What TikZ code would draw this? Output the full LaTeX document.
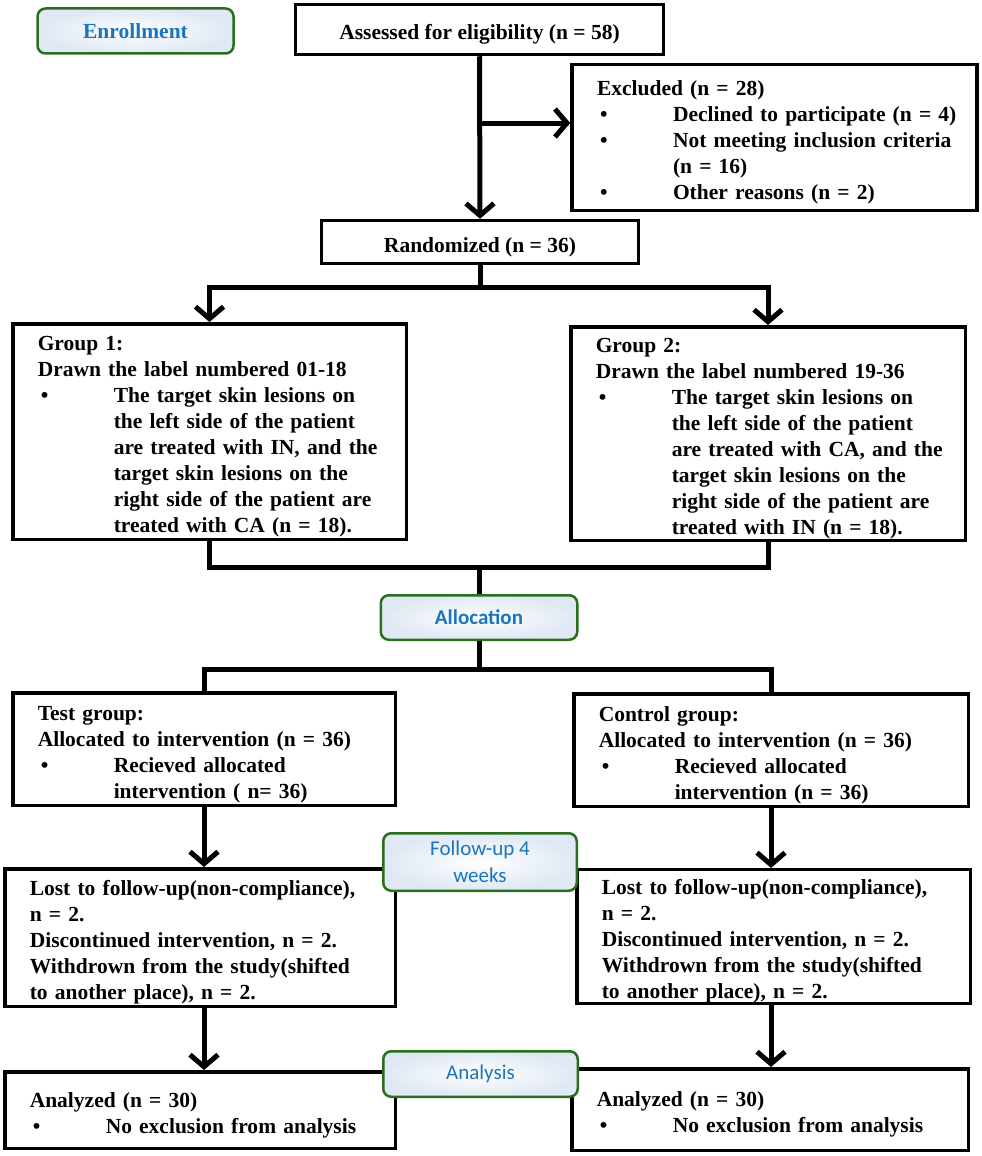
\documentclass[tikz,border=0pt]{standalone}
\usepackage{fontspec}
\setmainfont{Liberation Serif}
\newfontfamily\stagefont{Carlito}
\usetikzlibrary{arrows.meta,positioning,calc}
\definecolor{stagegreen}{HTML}{2A6E1E}
\definecolor{stageblue}{HTML}{1A75BC}
\definecolor{stagefill}{HTML}{DFE8F3}
\newcommand{\blt}{\makebox[76pt][l]{\hspace{3pt}\textbullet}}
\newcommand{\ind}{\hspace*{76pt}}

\begin{document}
\begin{tikzpicture}[x=1pt,y=-1pt,
  box/.style={draw, line width=3.5pt, inner xsep=25pt, inner ysep=0pt, align=left,
    font=\fontsize{21.5}{26}\selectfont\bfseries,
    execute at begin node={\rightskip=0pt plus 1fil minus 40pt\rule{0pt}{25pt}}},
  stage/.style={draw=stagegreen, line width=2.5pt, rounded corners=8pt, inner sep=0pt,
    inner color=white, outer color=stagefill, text=stageblue, align=center,
    font=\stagefont\fontsize{21}{27}\selectfont},
  ln/.style={line width=5pt},
  arr/.style={ln, -{Straight Barb[length=12pt,width=28pt]}}]
  \useasboundingbox (0,0) rectangle (982,1156);

  % boxes
  \node[box, align=center, minimum width=368pt, minimum height=50pt] (assess) at (479.5,29.5)
    {Assessed for eligibility (n = 58)};
  \node[box, text width=355pt, minimum height=146pt] (excl) at (774.5,137.5)
    {Excluded (n = 28)\\
     \blt Declined to participate (n = 4)\\
     \blt Not meeting inclusion criteria\\
     \ind (n = 16)\\
     \blt Other reasons (n = 2)};
  \node[box, align=center, minimum width=317pt, minimum height=43pt] (rand) at (480,242)
    {Randomized (n = 36)};
  \node[box, text width=343.5pt, minimum height=215.5pt] (grp1) at (209.5,431.5)
    {Group 1:\\
     Drawn the label numbered 01-18\\
     \blt The target skin lesions on\\
     \ind the left side of the patient\\
     \ind are treated with IN, and the\\
     \ind target skin lesions on the\\
     \ind right side of the patient are\\
     \ind treated with CA (n = 18).};
  \node[box, text width=344.5pt, minimum height=213.5pt] (grp2) at (768,433.5)
    {Group 2:\\
     Drawn the label numbered 19-36\\
     \blt The target skin lesions on\\
     \ind the left side of the patient\\
     \ind are treated with CA, and the\\
     \ind target skin lesions on the\\
     \ind right side of the patient are\\
     \ind treated with IN (n = 18).};
  \node[box, text width=332.5pt, minimum height=112.5pt] (test) at (204,749)
    {Test group:\\
     Allocated to intervention (n = 36)\\
     \blt Recieved allocated\\
     \ind intervention ( n= 36)};
  \node[box, text width=344.5pt, minimum height=112.5pt] (ctrl) at (771,750)
    {Control group:\\
     Allocated to intervention (n = 36)\\
     \blt Recieved allocated\\
     \ind intervention (n = 36)};
  \node[box, text width=340.5pt, minimum height=137.5pt] (lost1) at (200,937.5)
    {Lost to follow-up(non-compliance),\\
     n = 2.\\
     Discontinued intervention, n = 2.\\
     Withdrown from the study(shifted\\
     to another place), n = 2.};
  \node[box, text width=343.5pt, minimum height=133.5pt] (lost2) at (773.5,936.5)
    {Lost to follow-up(non-compliance),\\
     n = 2.\\
     Discontinued intervention, n = 2.\\
     Withdrown from the study(shifted\\
     to another place), n = 2.};
  \node[box, text width=340.5pt, minimum height=76.5pt] (ana1) at (200,1110)
    {Analyzed (n = 30)\\
     \blt No exclusion from analysis};
  \node[box, text width=346.5pt, minimum height=81.5pt] (ana2) at (770,1109.5)
    {Analyzed (n = 30)\\
     \blt No exclusion from analysis};

  % stage labels
  \node[stage, minimum width=196pt, minimum height=45pt, font=\fontsize{21.5}{26}\selectfont\bfseries]
    (enrol) at (135.5,31) {Enrollment};
  \node[stage, minimum width=196.5pt, minimum height=44.5pt, font=\stagefont\fontsize{21}{27}\selectfont\bfseries]
    (alloc) at (479,617.5) {Allocation};
  \node[stage, minimum width=193.5pt, minimum height=57.5pt] (follow) at (480,862)
    {Follow-up 4\\weeks};
  \node[stage, minimum width=194.5pt, minimum height=45.5pt] (analysis) at (480.5,1074)
    {Analysis};

  % connectors
  \coordinate (xsplit) at (480,123);
  \coordinate (gjoin) at (479,567);
  \coordinate (ajoin) at (479,669);
  \draw[arr] (assess.south) -- (rand.north);
  \draw[arr] (xsplit) -- (xsplit -| excl.west);
  \draw[arr] (rand.south) -- ++(0,22) -| (grp1.north);
  \draw[arr] (rand.south) -- ++(0,22) -| (grp2.north);
  \draw[ln] (grp1.south) |- (gjoin) -| (grp2.south);
  \draw[ln] (gjoin) -- (alloc.north);
  \draw[ln] (alloc.south) -- (ajoin);
  \draw[ln] (test.north) |- (ajoin) -| (ctrl.north);
  \draw[arr] (test.south) -- (test.south |- lost1.north);
  \draw[arr] (ctrl.south) -- (ctrl.south |- lost2.north);
  \draw[arr] (test.south |- lost1.south) -- (test.south |- ana1.north);
  \draw[arr] (ctrl.south |- lost2.south) -- (ctrl.south |- ana2.north);
\end{tikzpicture}
\end{document}
